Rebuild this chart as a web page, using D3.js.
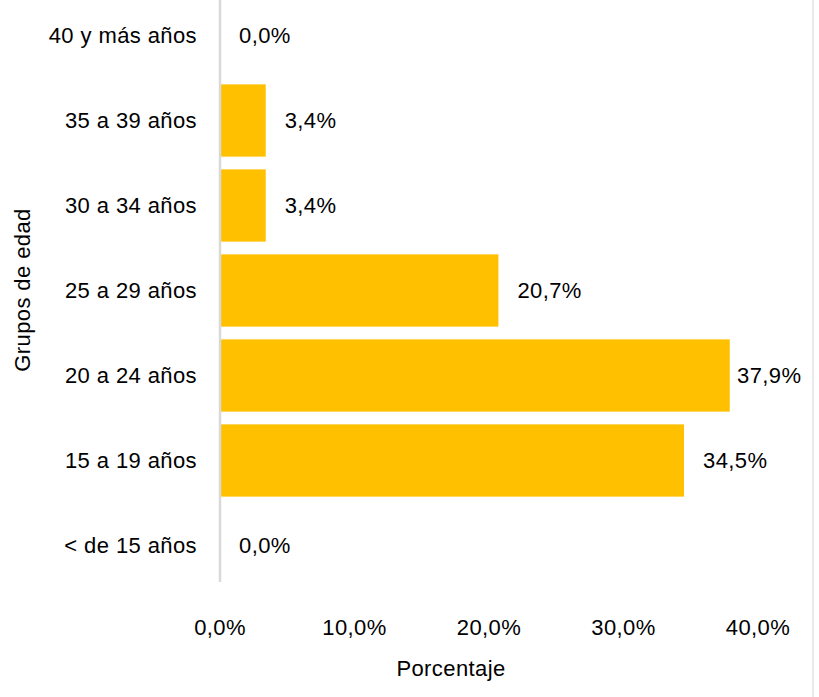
<!DOCTYPE html>
<html>
<head>
<meta charset="utf-8">
<script src="https://cdn.jsdelivr.net/npm/d3@7"></script>
<style>
  body { margin: 0; background: #fff; }
  text { font-family: "Liberation Sans", Arial, sans-serif; fill: #000; font-size: 22px; letter-spacing: 0.4px; }
</style>
</head>
<body>
<svg id="chart" width="819" height="697"></svg>
<script>
// age groups, top to bottom
var groups = ["40 y más años", "35 a 39 años", "30 a 34 años", "25 a 29 años", "20 a 24 años", "15 a 19 años", "< de 15 años"];
var values = [0.0, 3.4, 3.4, 20.7, 37.9, 34.5, 0.0];
var ticks = [0, 10, 20, 30, 40];

var data = groups.map((g, i) => ({ group: g, value: values[i] }));

var svg = d3.select("#chart");
var fmt = v => d3.format(".1f")(v).replace(".", ",") + "%";

// scales
var x = d3.scaleLinear().domain([0, 40]).range([220, 758]);
var y = d3.scaleBand().domain(groups).range([-7, 588]).paddingInner(0.15).paddingOuter(0.075);

// right border line
svg.append("line").attr("x1", 813).attr("x2", 813).attr("y1", 0).attr("y2", 697)
  .attr("stroke", "#e3e3e3").attr("stroke-width", 1.5);

// bars
svg.selectAll(".bar").data(data).join("rect")
  .attr("class", "bar")
  .attr("x", x(0))
  .attr("y", d => y(d.group))
  .attr("width", d => x(d.value) - x(0))
  .attr("height", y.bandwidth())
  .attr("fill", "#FFC000");

// y axis line
svg.append("line").attr("x1", x(0)).attr("x2", x(0)).attr("y1", 0).attr("y2", 582)
  .attr("stroke", "#d9d9d9").attr("stroke-width", 2.5);

// category labels
svg.selectAll(".cat").data(data).join("text")
  .attr("class", "cat")
  .attr("x", 197)
  .attr("y", d => y(d.group) + y.bandwidth() / 2)
  .attr("dy", "0.35em")
  .attr("text-anchor", "end")
  .text(d => d.group);

// value labels
svg.selectAll(".val").data(data).join("text")
  .attr("class", "val")
  .attr("x", d => Math.min(x(d.value) + 19, 737))
  .attr("y", d => y(d.group) + y.bandwidth() / 2)
  .attr("dy", "0.35em")
  .text(d => fmt(d.value));

// x tick labels
svg.selectAll(".tick-lab").data(ticks).join("text")
  .attr("class", "tick-lab")
  .attr("x", d => x(d))
  .attr("y", 627)
  .attr("dy", "0.35em")
  .attr("text-anchor", "middle")
  .text(d => fmt(d));

// axis titles
svg.append("text").attr("x", 451).attr("y", 668).attr("dy", "0.35em")
  .attr("text-anchor", "middle").text("Porcentaje");

svg.append("text")
  .attr("transform", "translate(22,290) rotate(-90)")
  .attr("dy", "0.35em")
  .attr("text-anchor", "middle").text("Grupos de edad");
</script>
</body>
</html>
